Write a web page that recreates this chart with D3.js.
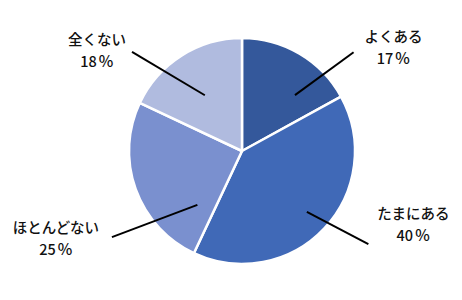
<!DOCTYPE html>
<html>
<head>
<meta charset="utf-8">
<script src="https://cdn.jsdelivr.net/npm/d3@7"></script>
<style>
  html, body { margin: 0; padding: 0; background: #fff; }
  svg { display: block; }
</style>
</head>
<body>
<script>
var W = 462, H = 300;
var CX = 242, CY = 151, R = 113;

// data
var categories = ["よくある", "たまにある", "ほとんどない", "全くない"];
var values = [17, 40, 25, 18];
var colors = ["#34589b", "#4069b7", "#7a90cf", "#b0bbdf"];

// leader line layout: where inside the slice it starts (fraction of slice angle, radius),
// where it ends (degrees clockwise from top, radius), label offset from line end
var leaderStart = [[0.71, 77], [0.5, 89], [0.16, 70], [0.48, 67]];
var leaderEnd = [[48.5, 149], [126.4, 157], [236.5, 156], [312, 148]];
var labelOffset = [[40, -7], [45, -22], [-56, -1], [-35, -4]];

var rows = categories.map(function(c, i) {
    return { label: c, value: values[i], color: colors[i] };
});

var svg = d3.select("body").append("svg")
    .attr("width", W)
    .attr("height", H);

var g = svg.append("g").attr("transform", "translate(" + CX + "," + CY + ")");

var pie = d3.pie().sort(null).value(function(d) { return d.value; });
var arcs = pie(rows);
var arc = d3.arc().innerRadius(0).outerRadius(R);

g.selectAll("path.slice")
    .data(arcs).enter()
    .append("path")
    .attr("class", "slice")
    .attr("d", arc)
    .attr("fill", function(d) { return d.data.color; })
    .attr("stroke", "#fff")
    .attr("stroke-width", 2.5)
    .attr("stroke-linejoin", "round");

function polar(angle, r) {
    return [Math.sin(angle) * r, -Math.cos(angle) * r];
}
var deg = Math.PI / 180;

arcs.forEach(function(d, i) {
    var a0 = d.startAngle + leaderStart[i][0] * (d.endAngle - d.startAngle);
    var p0 = polar(a0, leaderStart[i][1]);
    var p1 = polar(leaderEnd[i][0] * deg, leaderEnd[i][1]);
    g.append("line")
        .attr("x1", p0[0]).attr("y1", p0[1])
        .attr("x2", p1[0]).attr("y2", p1[1])
        .attr("stroke", "#000")
        .attr("stroke-width", 2);

    var lx = p1[0] + labelOffset[i][0];
    var ly = p1[1] + labelOffset[i][1];
    var t = g.append("text")
        .attr("x", lx)
        .attr("y", ly)
        .attr("text-anchor", "middle")
        .attr("font-family", "'Noto Sans CJK JP', 'Noto Sans', sans-serif")
        .attr("font-size", 14.5)
        .attr("font-weight", 500)
        .attr("fill", "#111");
    t.append("tspan").attr("x", lx).attr("dy", "-0.22em").text(d.data.label);
    t.append("tspan").attr("x", lx).attr("dy", "1.5em").text(d.data.value);
    t.append("tspan").attr("dx", 1.5).attr("font-size", 15.5).text("％");
});
</script>
</body>
</html>
